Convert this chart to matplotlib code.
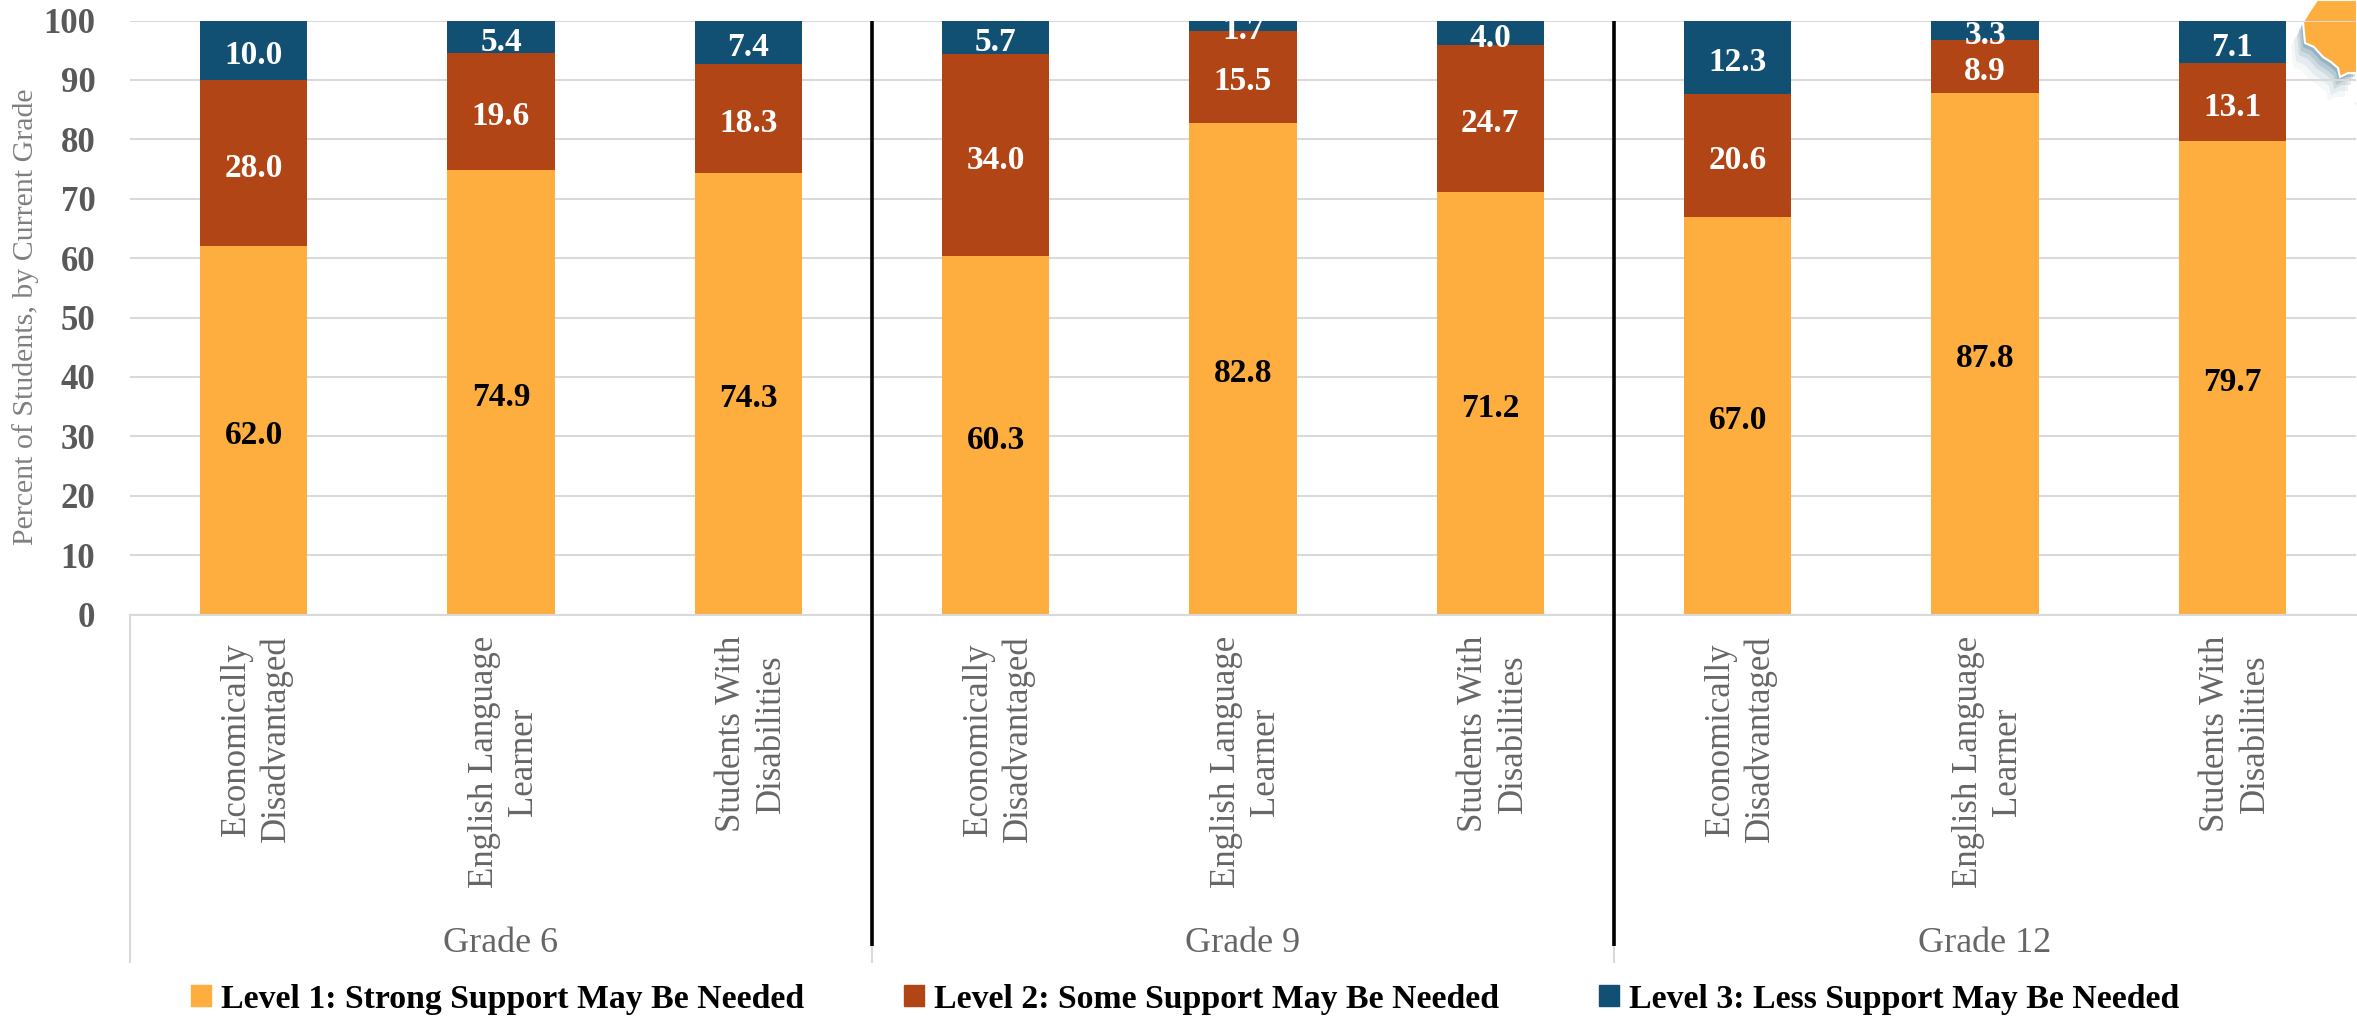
import matplotlib
matplotlib.use("Agg")
import matplotlib.pyplot as plt
from matplotlib.patches import Patch, Polygon
from matplotlib.transforms import IdentityTransform, ScaledTranslation
import numpy as np

groups = ["Grade 6", "Grade 9", "Grade 12"]
categories = ["Economically\nDisadvantaged", "English Language\nLearner", "Students With\nDisabilities"] * 3
level1 = [62.0, 74.9, 74.3, 60.3, 82.8, 71.2, 67.0, 87.8, 79.7]
level2 = [28.0, 19.6, 18.3, 34.0, 15.5, 24.7, 20.6, 8.9, 13.1]
level3 = [10.0, 5.4, 7.4, 5.7, 1.7, 4.0, 12.3, 3.3, 7.1]
series_names = ["Level 1: Strong Support May Be Needed",
                "Level 2: Some Support May Be Needed",
                "Level 3: Less Support May Be Needed"]
colors = ["#FDAE3F", "#B24516", "#125073"]
label_colors = ["black", "white", "white"]
ylabel = "Percent of Students, by Current Grade"

W, H = 2357, 1022
SERIF = ["Liberation Serif", "DejaVu Serif"]
plt.rcParams["font.family"] = SERIF
fig = plt.figure(figsize=(W / 100, H / 100), dpi=100)
L, R, T, B = 130, 2356, 20.5, 614.5
ax = fig.add_axes([L / W, 1 - B / H, (R - L) / W, (B - T) / H])
ax.patch.set_visible(False)
ax.set_xlim(-0.5, 8.5)
ax.set_ylim(0, 100)
x = np.arange(len(level1))
grid = "#D9D9D9"
ax.set_yticks(range(0, 101, 10))
ax.yaxis.grid(True, color=grid, lw=1.5)
ax.set_axisbelow(True)
for s in ["top", "right", "left"]:
    ax.spines[s].set_visible(False)
ax.spines["bottom"].set_color(grid)
ax.spines["bottom"].set_linewidth(1.5)
ax.tick_params(axis="both", length=0)
ax.tick_params(axis="y", pad=25, labelsize=25, labelcolor="#595959")
for t in ax.get_yticklabels():
    t.set_fontweight("bold")
ax.set_xticks(x)
ax.set_xticklabels(categories, rotation=90, ha="center", va="top", multialignment="center",
                   fontsize=25, color="#666666", linespacing=1.25)
ax.tick_params(axis="x", pad=15)
shift = ScaledTranslation(3 / 100, 0, fig.dpi_scale_trans)
for t in ax.get_xticklabels():
    t.set_transform(t.get_transform() + shift)

bottom = np.zeros(len(x))
for vals, col, lc in zip([level1, level2, level3], colors, label_colors):
    vals = np.array(vals)
    ax.bar(x, vals, 0.433, bottom=bottom, color=col, zorder=2)
    for xi, b, v in zip(x, bottom, vals):
        ax.text(xi, b + v / 2 - 0.85, f"{v:.1f}", ha="center", va="center", color=lc, fontsize=24,
                fontweight="bold", zorder=3)
    bottom = bottom + vals


def fy(p):
    return (B - p) / (B - T)


tr = ax.get_xaxis_transform()
for i, name in enumerate(groups):
    xl = 3 * i - 0.5
    ax.plot([xl, xl], [fy(B), fy(962)], color=grid, lw=1.5, transform=tr, clip_on=False, zorder=1)
    ax.text(3 * i + 1, fy(943), name, transform=tr, ha="center", va="center",
            fontsize=26, color="#666666")
    if i:
        ax.plot([xl, xl], [fy(T), fy(946)], color="black", lw=2.6, transform=tr, clip_on=False,
                zorder=5, solid_capstyle="butt")

fig.text(26 / W, 1 - 317 / H, ylabel, rotation=90, ha="center", va="center",
         fontsize=21.5, color="#7F7F7F")

handles = [Patch(color=c, label=n) for c, n in zip(colors, series_names)]
fig.legend(handles=handles, ncol=3, loc="center left", bbox_to_anchor=(191 / W, 1 - 999 / H),
           frameon=False, prop={"family": SERIF, "weight": "bold", "size": 24.3},
           handlelength=0.6, handleheight=0.6, handletextpad=0.3, columnspacing=2.95,
           borderaxespad=0, borderpad=0, labelcolor="black")


# decorative map fragment in the top-right corner, in pixel coordinates
def px(pts):
    return [(a, H - b) for a, b in pts]


shape = [(2317, 0), (2309, 12), (2303, 22), (2305, 43), (2314, 47), (2323, 57), (2331, 62),
         (2338, 68), (2340, 77), (2348, 73), (2357, 73), (2357, 0)]
fragment = [(2357, 95), (2354, 105), (2357, 106)]
for grow, alpha in [(24, 0.04), (18, 0.07), (12, 0.1), (8, 0.13), (4, 0.18)]:
    shadow = [(a - grow * 0.5, b + grow) for a, b in shape]
    fig.add_artist(Polygon(px(shadow), closed=True, transform=IdentityTransform(),
                           facecolor="#125073", edgecolor="none", alpha=alpha, zorder=-2))
for pts in (shape, fragment):
    fig.add_artist(Polygon(px(pts), closed=True, transform=IdentityTransform(),
                           facecolor="#FDAE3F", edgecolor="white", lw=1.5, zorder=-1))

fig.savefig("out.png", dpi=100)
